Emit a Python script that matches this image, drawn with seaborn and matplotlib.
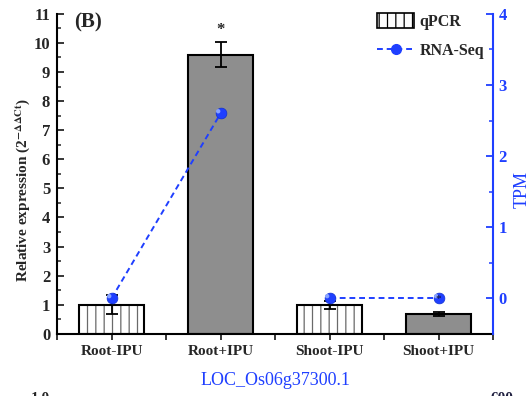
import numpy as np
import pandas as pd
import matplotlib
matplotlib.use("Agg")
import matplotlib.pyplot as plt
import seaborn as sns
from matplotlib.patches import Patch, Rectangle
from matplotlib.lines import Line2D

# Data
categories = ["Root-IPU", "Root+IPU", "Shoot-IPU", "Shoot+IPU"]
tissue = ["Root", "Root", "Shoot", "Shoot"]
qpcr_mean = [1.0, 9.6, 1.0, 0.68]
qpcr_err = [0.33, 0.43, 0.13, 0.08]
tpm = [0.0, 2.6, 0.0, 0.0]
treated = [False, True, False, True]

sns.set_theme(style="white")
plt.rcParams["font.family"] = ["Liberation Serif", "DejaVu Serif"]
plt.rcParams["mathtext.fontset"] = "stix"
plt.rcParams["hatch.linewidth"] = 0.9

blue = "#1f3fff"
gray = "#8e8e8e"
hatch_gray = "#6a6a6a"

fig = plt.figure(figsize=(5.29, 3.96), dpi=100)
ax = fig.add_axes([0.108, 0.157, 0.824, 0.808])

df = pd.DataFrame({"cond": categories, "val": qpcr_mean})
palette = {c: (gray if t else "white") for c, t in zip(categories, treated)}
sns.barplot(data=df, x="cond", y="val", hue="cond", palette=palette,
            order=categories, width=0.6, errorbar=None, legend=False,
            edgecolor="black", linewidth=1.5, ax=ax, saturation=1)
# untreated bars: grey vertical hatching inside a black outline
for p, t in zip(list(ax.patches), treated):
    if not t:
        p.set_hatch("||")
        p.set_edgecolor(hatch_gray)
        p.set_linewidth(0)
        ax.add_patch(Rectangle(p.get_xy(), p.get_width(), p.get_height(),
                               fill=False, edgecolor="black", linewidth=1.5,
                               zorder=p.get_zorder() + 0.1))

x = np.arange(len(categories))
ax.errorbar(x, qpcr_mean, yerr=qpcr_err, fmt="none", ecolor="black",
            elinewidth=1.3, capsize=4, capthick=1.3, zorder=3)

ax.set_xlim(-0.5, 3.5)
ax.set_ylim(0, 11)
ax.set_yticks(np.arange(0, 12, 1))
ax.set_yticks(np.arange(0.5, 11, 1), minor=True)
ax.set_xticks(np.arange(-0.5, 4, 0.5))
ax.set_xticklabels(["", "Root-IPU", "", "Root+IPU", "", "Shoot-IPU", "",
                    "Shoot+IPU", ""])
ax.tick_params(axis="x", direction="out", length=4, width=1.3, pad=4,
               labelsize=11, bottom=True)
ax.tick_params(axis="y", which="major", direction="in", length=5, width=1.3,
               labelsize=12, left=True, pad=5)
ax.tick_params(axis="y", which="minor", direction="in", length=3, width=1.1,
               left=True)
for lbl in ax.get_xticklabels() + ax.get_yticklabels():
    lbl.set_fontweight("bold")
ax.set_xlabel("")
ax.set_ylabel(r"Relative expression (2$^{\mathbf{-\Delta\Delta Ct}}$)",
              fontsize=11, fontweight="bold")
ax.yaxis.set_label_coords(-0.057, 0.45)
for s in ["top", "right"]:
    ax.spines[s].set_visible(False)
for s in ["left", "bottom"]:
    ax.spines[s].set_color("black")
    ax.spines[s].set_linewidth(1.5)

ax.text(-0.34, 10.7, "(B)", fontsize=15, fontweight="bold",
        ha="left", va="center")
ax.text(1, 10.45, "*", fontsize=12, fontweight="bold", ha="center",
        va="center")

# RNA-Seq on secondary axis, one dashed segment per tissue
ax2 = ax.twinx()
ax2.set_ylim(-0.5, 4)
ldf = pd.DataFrame({"pos": x, "tpm": tpm, "tissue": tissue})
sns.lineplot(data=ldf, x="pos", y="tpm", units="tissue", estimator=None,
             ax=ax2, color=blue, linestyle=(0, (3, 2)), linewidth=1.4,
             sort=False, zorder=4)
ax2.scatter(x, tpm, s=60, color=blue, edgecolor="#1030d0", linewidth=0.5,
            zorder=5)
ax2.scatter(x - 0.022, np.array(tpm) + 0.03, s=10, color="#8aa4ff",
            edgecolor="none", zorder=6)
ax2.text(3, -0.01, "*", fontsize=8, ha="center", va="center",
         color="#101030", zorder=7)
ax2.set_yticks([0, 1, 2, 3, 4])
ax2.set_yticks([0.5, 1.5, 2.5, 3.5], minor=True)
ax2.tick_params(axis="y", which="major", direction="in", length=5, width=1.3,
                colors=blue, labelsize=12, right=True, pad=4)
ax2.tick_params(axis="y", which="minor", direction="in", length=3, width=1.1,
                colors=blue, right=True)
for lbl in ax2.get_yticklabels():
    lbl.set_fontweight("bold")
ax2.set_ylabel("TPM", color=blue, fontsize=13)
ax2.yaxis.set_label_coords(1.047, 0.45)
for s in ["top", "left", "bottom"]:
    ax2.spines[s].set_visible(False)
ax2.spines["right"].set_color(blue)
ax2.spines["right"].set_linewidth(1.5)

handles = [Patch(facecolor="white", edgecolor="black", hatch="||",
                 linewidth=1.2, label="qPCR"),
           Line2D([0], [0], color=blue, linestyle=(0, (3, 2)), linewidth=1.4,
                  marker="o", markersize=7, label="RNA-Seq")]
leg = ax2.legend(handles=handles, loc="upper right", frameon=False,
                 bbox_to_anchor=(1.0, 1.03), handlelength=2.4,
                 handleheight=1.1, handletextpad=0.35, labelspacing=0.85,
                 borderaxespad=0.2)
for t in leg.get_texts():
    t.set_fontweight("bold")
    t.set_fontsize(11.5)

fig.text(0.52, 0.04, "LOC_Os06g37300.1", color=blue, fontsize=13,
         ha="center", va="center")
fig.text(0.058, 0.011, "1.0", fontsize=11, fontweight="bold", ha="left",
         va="top")
fig.text(0.928, 0.011, "600", fontsize=11, fontweight="bold",
         color="#202040", ha="left", va="top")

fig.savefig("out.png", dpi=100)
